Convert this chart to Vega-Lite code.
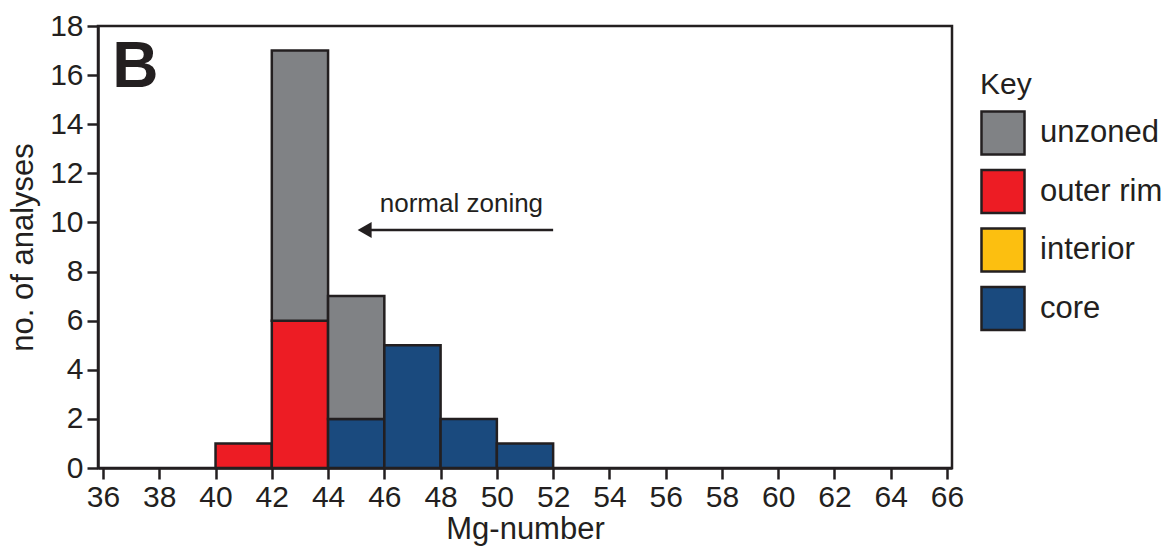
{
  "$schema": "https://vega.github.io/schema/vega-lite/v6.json",
  "width": 854,
  "height": 442,
  "autosize": {"type": "none"},
  "padding": {"left": 98, "top": 26, "right": 221, "bottom": 79},
  "background": "white",
  "config": {
    "font": "Liberation Sans",
    "view": {"stroke": "#231F20", "strokeWidth": 2.5},
    "axis": {
      "grid": false,
      "domainColor": "#231F20",
      "domainWidth": 2.5,
      "tickColor": "#231F20",
      "tickWidth": 2.5,
      "tickSize": 11,
      "labelFont": "Liberation Sans",
      "labelFontSize": 30,
      "labelColor": "#231F20",
      "titleFont": "Liberation Sans",
      "titleFontSize": 31,
      "titleFontWeight": "normal",
      "titleColor": "#231F20"
    }
  },
  "layer": [
    {
      "data": {
        "values": [
          {"start": 40, "end": 42, "zone": "outer rim", "count": 1},
          {"start": 42, "end": 44, "zone": "outer rim", "count": 6},
          {"start": 42, "end": 44, "zone": "unzoned", "count": 11},
          {"start": 44, "end": 46, "zone": "core", "count": 2},
          {"start": 44, "end": 46, "zone": "unzoned", "count": 5},
          {"start": 46, "end": 48, "zone": "core", "count": 5},
          {"start": 48, "end": 50, "zone": "core", "count": 2},
          {"start": 50, "end": 52, "zone": "core", "count": 1}
        ]
      },
      "mark": {"type": "bar", "stroke": "#231F20", "strokeWidth": 2.5, "opacity": 1},
      "encoding": {
        "x": {
          "field": "start", "type": "quantitative",
          "scale": {"domain": [36, 66], "nice": false, "zero": false},
          "axis": {"values": [36,38,40,42,44,46,48,50,52,54,56,58,60,62,64,66], "title": "Mg-number", "labelPadding": 3, "titlePadding": 2, "labelFlush": false}
        },
        "x2": {"field": "end"},
        "y": {
          "field": "count", "type": "quantitative", "aggregate": "sum", "stack": "zero",
          "scale": {"domain": [0, 18], "nice": false},
          "axis": {"values": [0,2,4,6,8,10,12,14,16,18], "title": "no. of analyses", "labelPadding": 4, "titlePadding": 10, "labelFlush": false}
        },
        "color": {
          "field": "zone", "type": "nominal",
          "scale": {"domain": ["unzoned", "outer rim", "interior", "core"], "range": ["#808285", "#ED1C24", "#FCBF10", "#1A4A7E"]},
          "legend": {
            "title": "Key",
            "orient": "none",
            "legendX": 882,
            "legendY": 44,
            "titleFontSize": 30,
            "titleFontWeight": "normal",
            "titleColor": "#231F20",
            "titlePadding": 10,
            "labelFontSize": 31,
            "labelColor": "#231F20",
            "labelOffset": 14,
            "symbolType": "square",
            "symbolSize": 1850,
            "symbolStrokeColor": "#231F20",
            "symbolStrokeWidth": 2.5,
            "symbolOpacity": 1,
            "rowPadding": 4.5
          }
        },
        "order": {"field": "zone", "sort": "ascending"}
      }
    },
    {
      "data": {"values": [{"x": 36.33, "y": 16.3, "label": "B"}]},
      "mark": {"type": "text", "align": "left", "baseline": "middle", "fontSize": 64, "fontWeight": "bold", "color": "#231F20", "font": "Liberation Sans"},
      "encoding": {
        "x": {"field": "x", "type": "quantitative"},
        "y": {"field": "y", "type": "quantitative"},
        "text": {"field": "label"}
      }
    },
    {
      "data": {"values": [{"x": 52, "x2": 45.3, "y": 9.69}]},
      "mark": {"type": "rule", "color": "#231F20", "strokeWidth": 2.5},
      "encoding": {
        "x": {"field": "x", "type": "quantitative"},
        "x2": {"field": "x2"},
        "y": {"field": "y", "type": "quantitative"}
      }
    },
    {
      "data": {"values": [{"x": 45.3, "y": 9.69}]},
      "mark": {"type": "point", "shape": "triangle-left", "filled": true, "color": "#231F20", "opacity": 1, "size": 260},
      "encoding": {
        "x": {"field": "x", "type": "quantitative"},
        "y": {"field": "y", "type": "quantitative"}
      }
    },
    {
      "data": {"values": [{"x": 48.74, "y": 10.75, "label": "normal zoning"}]},
      "mark": {"type": "text", "align": "center", "baseline": "middle", "fontSize": 26, "color": "#231F20", "font": "Liberation Sans"},
      "encoding": {
        "x": {"field": "x", "type": "quantitative"},
        "y": {"field": "y", "type": "quantitative"},
        "text": {"field": "label"}
      }
    }
  ]
}
